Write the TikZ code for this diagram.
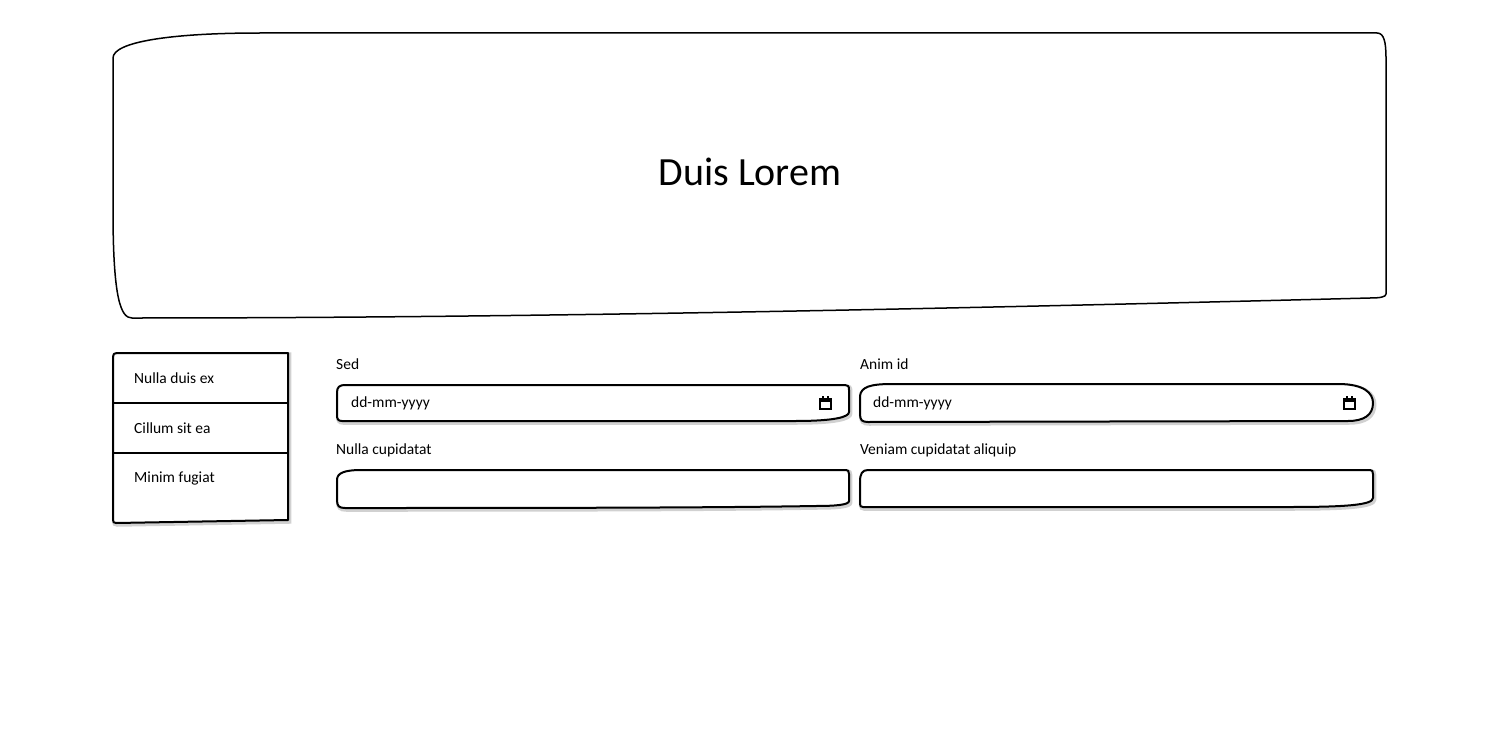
\documentclass[tikz,border=0pt]{standalone}
\usepackage{fontspec}
\setmainfont{Carlito}
\begin{document}
\begin{tikzpicture}[x=1pt,y=-1pt,
  sketch/.style={draw=black, line width=1.5pt, line join=round, fill=white},
  boxline/.style={draw=black, line width=2pt, line join=round, fill=white,
    preaction={draw=black, opacity=0.18, line width=4.5pt, transform canvas={shift={(1.2pt,-1.5pt)}}}},
  divider/.style={draw=black, line width=2pt},
  lbl/.style={anchor=west, inner sep=0pt, font=\fontsize{15.5}{18}\selectfont},
  title/.style={inner sep=0pt, font=\fontsize{40}{46}\selectfont},
  cal/.style={draw=black, line width=1.3pt}
]
\useasboundingbox[fill=white] (0,0) rectangle (1500,752);

% header
\path[sketch] (113,58) .. controls (113,42) and (170,33) .. (260,33) -- (1377,33)
  .. controls (1384,33) and (1386,42) .. (1386,58) -- (1386,294)
  .. controls (1386,297) and (1380,298) .. (1370,298)
  .. controls (900,310) and (500,318) .. (132,318)
  .. controls (121,318) and (113,300) .. (113,210) -- cycle;
\node[title] (head) at (750,172) {Duis Lorem};

% sidebar
\path[boxline] (113,357) .. controls (113,354) and (114,353) .. (117,353) -- (288,353)
  -- (288,520) -- (116,523) .. controls (114,523) and (113,522) .. (113,520) -- cycle;
\coordinate (d1l) at (113,403); \coordinate (d1r) at (288,403);
\coordinate (d2l) at (113,453); \coordinate (d2r) at (288,453);
\draw[divider] (d1l) -- (d1r);
\draw[divider] (d2l) -- (d2r);
\node[lbl] (m1) at (134,378) {Nulla duis ex};
\node[lbl] (m2) at (134,428) {Cillum sit ea};
\node[lbl] (m3) at (134,478) {Minim fugiat};

% field 1: Sed (date)
\node[lbl] (l1) at (336,364) {Sed};
\path[boxline] (337,393) .. controls (337,387) and (339,385) .. (346,385) -- (845,385)
  .. controls (848,385) and (849,386) .. (849,390) -- (849,412)
  .. controls (849,417) and (835,421) .. (795,421) -- (342,421)
  .. controls (338,421) and (337,419) .. (337,415) -- cycle;
\node[lbl] (v1) at (351,403) {dd-mm-yyyy};
\draw[cal] (820,399) rectangle (831,409);
\fill (820,398.4) rectangle (831,401.5);
\draw[line width=1.2pt] (823,396) -- (823,398.5) (828,396) -- (828,398.5);

% field 2: Anim id (date)
\node[lbl] (l2) at (860,364) {Anim id};
\path[boxline] (860,396) .. controls (861,387) and (870,384) .. (892,384) -- (1338,384)
  .. controls (1364,384) and (1373,393) .. (1373,403)
  .. controls (1373,415) and (1364,421) .. (1348,421) -- (868,422)
  .. controls (862,422) and (860,420) .. (860,414) -- cycle;
\node[lbl] (v2) at (873,403) {dd-mm-yyyy};
\draw[cal] (1344,399) rectangle (1355,409);
\fill (1344,398.4) rectangle (1355,401.5);
\draw[line width=1.2pt] (1347,396) -- (1347,398.5) (1352,396) -- (1352,398.5);

% field 3: Nulla cupidatat
\node[lbl] (l3) at (336,450) {Nulla cupidatat};
\path[boxline] (337,480) .. controls (337,473) and (344,470) .. (362,470) -- (846,470)
  .. controls (848,470) and (849,471) .. (849,474) -- (849,501)
  .. controls (849,505) and (835,506) .. (815,506)
  .. controls (700,508) and (500,508) .. (345,508)
  .. controls (339,508) and (337,506) .. (337,500) -- cycle;

% field 4: Veniam cupidatat aliquip
\node[lbl] (l4) at (860,450) {Veniam cupidatat aliquip};
\path[boxline] (860,482) .. controls (860,474) and (862,470) .. (868,470) -- (1370,470)
  .. controls (1372,470) and (1373,471) .. (1373,474) -- (1373,498)
  .. controls (1373,505) and (1345,507) .. (1290,507) -- (863,507)
  .. controls (861,507) and (860,506) .. (860,504) -- cycle;
\end{tikzpicture}
\end{document}
